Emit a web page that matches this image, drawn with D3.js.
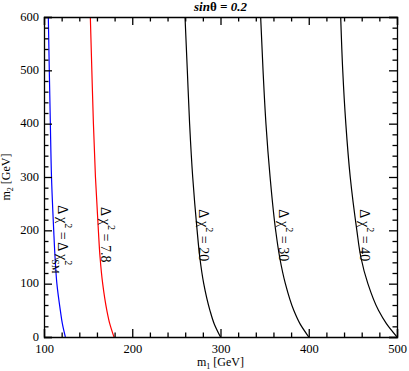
<!DOCTYPE html>
<html>
<head>
<meta charset="utf-8">
<script src="https://cdn.jsdelivr.net/npm/d3@7"></script>
<style>
  body { margin: 0; background: #fff; }
  svg { display: block; font-family: "Liberation Serif", "Times New Roman", serif; }
  .axis path, .axis line { stroke: #000; stroke-width: 1.3; }
</style>
</head>
<body>
<div id="chart"></div>
<script>
// chart size
const WIDTH = 409
const HEIGHT = 371
const MARGINS = {left: 44, right: 12, top: 17, bottom: 34};

// m2 grid (GeV) shared by every contour
const m2Values = [0, 25, 50, 100, 150, 200, 300, 400, 500, 600];

// m1 along each contour
const m1SM  = [124.2, 120.8, 118.5, 114.6, 112.5, 111.0, 108.5, 107.2, 106.0, 104.9];
const m1_78 = [179.3, 174.5, 171.2, 166.5, 163.5, 161.6, 158.3, 156.0, 154.2, 152.5];
const m1_20 = [300.0, 292.8, 288.0, 281.0, 276.5, 273.5, 268.5, 265.0, 262.4, 259.8];
const m1_30 = [400.0, 390.0, 383.0, 373.5, 367.0, 362.5, 356.2, 351.5, 348.2, 345.5];
const m1_40 = [500.0, 488.0, 479.0, 467.0, 459.0, 454.5, 447.0, 442.0, 438.5, 436.2];

// contour labels: value text, label anchor (m1, m2)
const curveNames  = ["SM", "7.8", "20", "30", "40"];
const curveColors = ["#0000ff", "#ff0000", "#000000", "#000000", "#000000"];
const labelM1 = [115.5, 164.2, 275.6, 366.3, 458.0];
const labelM2 = [247, 243.7, 239.4, 239.4, 239.4];

const xTicks = [100, 200, 300, 400, 500];
const yTicks = [0, 100, 200, 300, 400, 500, 600];

const svg = d3.select("#chart")
  .append("svg")
    .attr("width", WIDTH)
    .attr("height", HEIGHT);

const SCALE_X = d3.scaleLinear()
  .domain([100, 500])
  .range([MARGINS.left, WIDTH - MARGINS.right]);

const SCALE_Y = d3.scaleLinear()
  .domain([0, 600])
  .range([HEIGHT - MARGINS.bottom, MARGINS.top]);

const x0 = MARGINS.left, x1 = WIDTH - MARGINS.right;
const y0 = HEIGHT - MARGINS.bottom, y1 = MARGINS.top;

// clip for curves
svg.append("clipPath").attr("id", "clip")
  .append("rect").attr("x", x0).attr("y", y1).attr("width", x1 - x0).attr("height", y0 - y1);

// contours
const allCurves = [m1SM, m1_78, m1_20, m1_30, m1_40];
const line = d3.line()
  .x((d) => SCALE_X(d[0]))
  .y((d) => SCALE_Y(d[1]))
  .curve(d3.curveMonotoneY);

allCurves.forEach((c, i) => {
  svg.append("path")
    .datum(c.map((v, j) => [v, m2Values[j]]))
    .attr("clip-path", "url(#clip)")
    .attr("fill", "none")
    .attr("stroke", curveColors[i])
    .attr("stroke-width", 1.2)
    .attr("d", line);
});

// minor tick values
const xMinor = d3.range(100, 501, 20).filter((v) => !xTicks.includes(v));
const yMinor = d3.range(0, 601, 20).filter((v) => !yTicks.includes(v));

function addAxis(axisFn, scale, tr, major, minor, labels, pad) {
  const g = svg.append("g").attr("class", "axis").attr("transform", tr);
  g.call(axisFn(scale).tickValues(major).tickSize(-8).tickPadding(pad)
    .tickFormat(labels ? d3.format("d") : ""));
  g.append("g").call(axisFn(scale).tickValues(minor).tickSize(-4.5).tickFormat(""))
    .select(".domain").remove();
  g.attr("font-family", "Liberation Serif, serif").attr("font-size", 12.5);
  g.selectAll("text").attr("font-family", "Liberation Serif, serif").attr("font-size", 12.5);
  return g;
}

addAxis(d3.axisBottom, SCALE_X, `translate(0,${y0})`, xTicks, xMinor, true, 7);
addAxis(d3.axisTop, SCALE_X, `translate(0,${y1})`, xTicks, xMinor, false, 4);
const yAxisG = addAxis(d3.axisLeft, SCALE_Y, `translate(${x0},0)`, yTicks, yMinor, true, 5);
addAxis(d3.axisRight, SCALE_Y, `translate(${x1},0)`, yTicks, yMinor, false, 4);
yAxisG.selectAll("text").attr("dy", "0.25em");

svg.selectAll(".axis .domain").attr("stroke-width", 1.5);

// axis titles
const xt = svg.append("text")
  .attr("x", (x0 + x1) / 2).attr("y", 366)
  .attr("text-anchor", "middle").attr("font-size", 12);
xt.append("tspan").text("m");
xt.append("tspan").attr("font-size", 8).attr("dy", 3).text("1");
xt.append("tspan").attr("dy", -3).text(" [GeV]");

const yt = svg.append("text")
  .attr("transform", `translate(10,${(y0 + y1) / 2}) rotate(-90)`)
  .attr("text-anchor", "middle").attr("font-size", 12);
yt.append("tspan").text("m");
yt.append("tspan").attr("font-size", 8).attr("dy", 3).text("2");
yt.append("tspan").attr("dy", -3).text(" [GeV]");

// title
const tt = svg.append("text")
  .attr("x", (x0 + x1) / 2).attr("y", 11)
  .attr("text-anchor", "middle").attr("font-size", 13)
  .attr("font-weight", "bold");
tt.append("tspan").attr("font-style", "italic").text("sin");
tt.append("tspan").text("θ");
tt.append("tspan").attr("font-style", "italic").text(" = 0.2");

// contour labels, rotated
curveNames.forEach((name, i) => {
  const t = svg.append("text")
    .attr("transform", `translate(${SCALE_X(labelM1[i])},${SCALE_Y(labelM2[i])}) rotate(90)`)
    .attr("font-size", 14);
  t.append("tspan").text("Δ χ");
  t.append("tspan").attr("font-size", 10).attr("dy", -7).text("2");
  if (name === "SM") {
    t.append("tspan").attr("dy", 7).text(" = Δ χ");
    t.append("tspan").attr("font-size", 10).attr("dy", -7).text("2");
    t.append("tspan").attr("font-size", 10).attr("dx", -6).attr("dy", 13).text("SM");
  } else {
    t.append("tspan").attr("dy", 7).text(" = " + name);
  }
});
</script>
</body>
</html>
